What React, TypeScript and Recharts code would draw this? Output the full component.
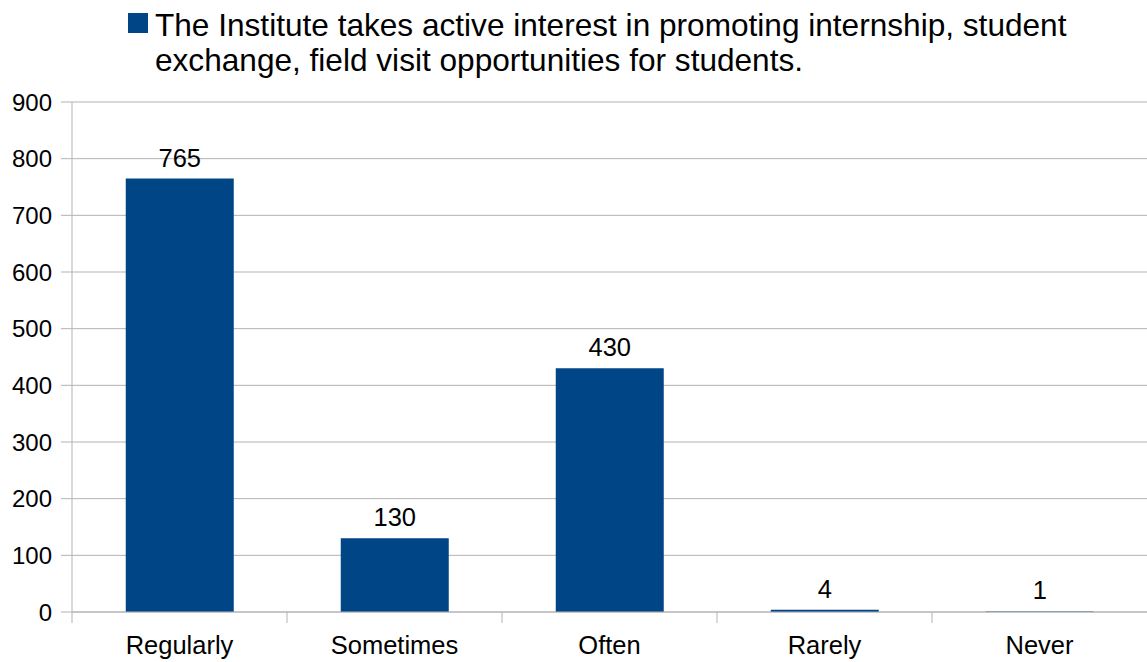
import React from 'react';
import { BarChart, Bar, XAxis, YAxis, CartesianGrid, LabelList } from 'recharts';

const categories = ['Regularly', 'Sometimes', 'Often', 'Rarely', 'Never'];
const responses = [765, 130, 430, 4, 1];
const yTicks = [0, 100, 200, 300, 400, 500, 600, 700, 800, 900];
const seriesName =
  'The Institute takes active interest in promoting internship, student exchange, field visit opportunities for students.';

const data = categories.map((name, i) => ({ name, value: responses[i] }));

const W = 1147;
const H = 662;
const LEFT = 72;
const BAND = (W - LEFT) / categories.length;
const GRID = '#b3b3b3';
const FONT = '"Liberation Sans", Arial, sans-serif';

function CategoryTick(props: any) {
  const { x, y, payload } = props;
  const left = x - BAND / 2;
  const base = y - 8;
  return (
    <g>
      <line x1={left} y1={base} x2={left} y2={base + 11} stroke={GRID} />
      <text x={x} y={base + 33} textAnchor="middle" dominantBaseline="central" fontSize={25.5} fill="#000" fontFamily={FONT}>
        {payload.value}
      </text>
    </g>
  );
}

export default function App() {
  return (
    <div style={{ position: 'absolute', left: 0, top: 0, width: W, height: H, background: '#fff', fontFamily: FONT }}>
      <div style={{ position: 'absolute', left: 128, top: 8, display: 'flex', alignItems: 'flex-start' }}>
        <div style={{ width: 20, height: 20, background: '#004586', marginTop: 5, marginRight: 7 }} />
        <div style={{ fontSize: 31.6, lineHeight: '35px', color: '#000', width: 990, whiteSpace: 'nowrap' }}>
          The Institute takes active interest in promoting internship, student
          <br />
          exchange, field visit opportunities for students.
        </div>
      </div>
      <BarChart
        width={W}
        height={H}
        data={data}
        margin={{ top: 102, right: 0, left: 0, bottom: 0 }}
        barCategoryGap="25%"
      >
        <CartesianGrid vertical={false} stroke={GRID} />
        <XAxis
          dataKey="name"
          height={50}
          tickLine={false}
          axisLine={{ stroke: GRID }}
          tick={<CategoryTick />}
          interval={0}
        />
        <YAxis
          width={LEFT}
          domain={[0, 900]}
          ticks={yTicks}
          interval={0}
          tickSize={11}
          tickMargin={9}
          tickLine={{ stroke: GRID }}
          axisLine={{ stroke: GRID }}
          tick={{ fontSize: 24, fill: '#000', fontFamily: FONT }}
        />
        <Bar dataKey="value" name={seriesName} fill="#004586" isAnimationActive={false}>
          <LabelList dataKey="value" position="top" offset={12} fontSize={25.5} fill="#000" fontFamily={FONT} />
        </Bar>
      </BarChart>
    </div>
  );
}
